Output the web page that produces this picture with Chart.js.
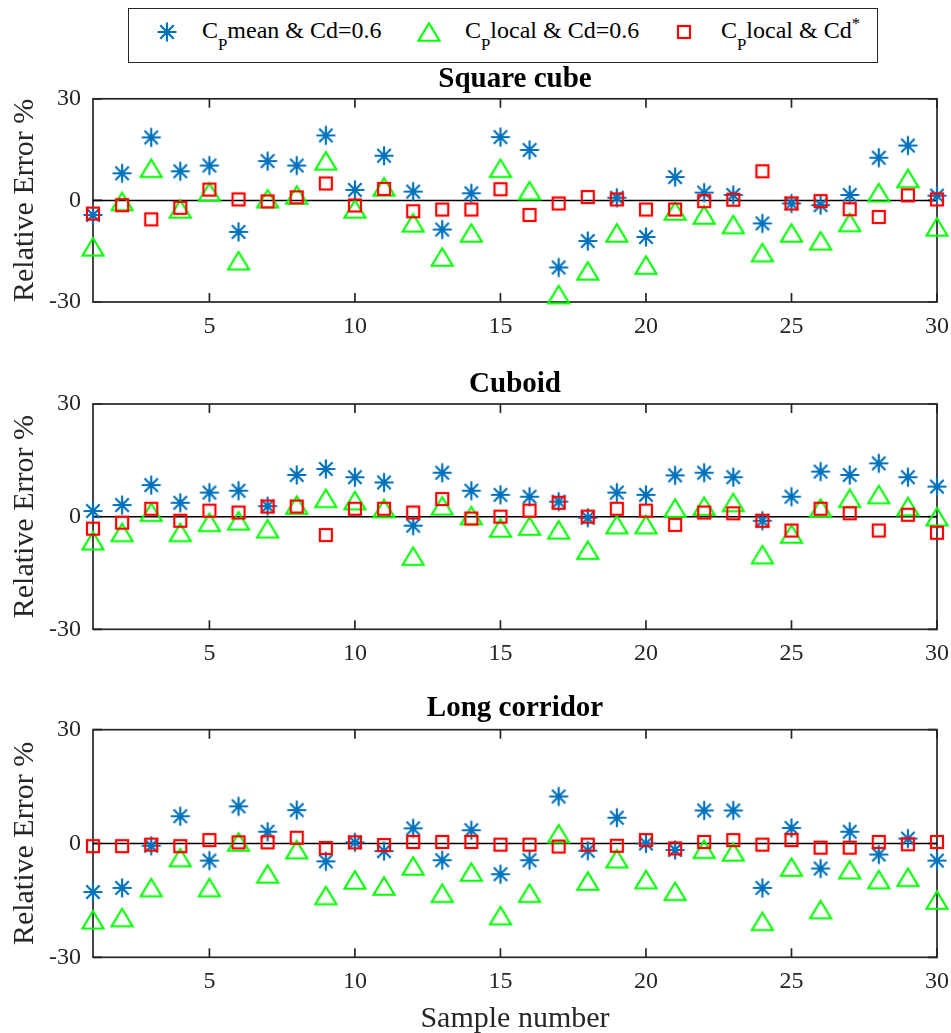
<!DOCTYPE html>
<html>
<head>
<meta charset="utf-8">
<script src="https://cdn.jsdelivr.net/npm/chart.js@4.4.1/dist/chart.umd.min.js"></script>
<style>
  html, body { margin: 0; padding: 0; background: #fff; width: 951px; height: 1033px; overflow: hidden; }
  canvas.panel { position: absolute; left: 0; }
  #legend {
    position: absolute; left: 128px; top: 8px; width: 750px; height: 55px;
    border: 1px solid #262626; box-sizing: border-box; background: #fff;
    font-family: 'Liberation Serif', 'Times New Roman', serif; font-size: 24px; color: #000;
  }
  #legend .txt { position: absolute; white-space: nowrap; line-height: 24px; }
  #legend sub { font-size: 70%; vertical-align: -12px; line-height: 0; }
  #legend sup { font-size: 70%; vertical-align: 9px; line-height: 0; }
  #legend canvas { position: absolute; }
</style>
</head>
<body>
<div id="legend"></div>
<canvas class="panel" id="cubeChart" width="951" height="300" style="top:50px"></canvas>
<canvas class="panel" id="cuboidChart" width="951" height="322" style="top:355px"></canvas>
<canvas class="panel" id="corridorChart" width="951" height="357" style="top:680px"></canvas>
<script>
// ---- data ----
const sampleNumbers = [1, 2, 3, 4, 5, 6, 7, 8, 9, 10, 11, 12, 13, 14, 15,
                       16, 17, 18, 19, 20, 21, 22, 23, 24, 25, 26, 27, 28, 29, 30];
const xTickValues = [5, 10, 15, 20, 25, 30];
const yTickValues = [-30, 0, 30];
const yRange = [-30, 30];
const zeroLevel = 0;

const seriesNames = ['C<sub>P</sub>mean &amp; Cd=0.6', 'C<sub>P</sub>local &amp; Cd=0.6', 'C<sub>P</sub>local &amp; Cd<sup>*</sup>'];
const panelTitles = ['Square cube', 'Cuboid', 'Long corridor'];

// Square cube
const cubeMean    = [-4.3, 8.0, 18.6, 8.6, 10.3, -9.3, 11.6, 10.3, 19.2, 3.1, 13.2, 2.6, -8.6, 2.1, 18.7,
                     14.9, -19.8, -12.0, 0.8, -10.8, 6.9, 2.3, 1.6, -6.8, -0.9, -1.4, 1.6, 12.6, 16.2, 1.4];
const cubeLocal   = [-13.7, -0.3, 9.5, -2.5, 2.5, -17.8, 0.5, 1.6, 11.7, -2.5, 4.0, -6.6, -16.7, -9.6, 9.5,
                     2.9, -27.8, -20.8, -9.6, -19.1, -3.1, -4.3, -7.1, -15.4, -9.6, -11.9, -6.5, 2.3, 6.5, -7.8];
const cubeLocalCd = [-3.9, -1.4, -5.6, -2.2, 3.2, 0.3, -0.3, 0.9, 5.0, -1.5, 3.4, -3.2, -2.7, -2.7, 3.3,
                     -4.3, -0.9, 1.0, 0.3, -2.7, -2.7, -0.2, 0.2, 8.6, -0.9, -0.2, -2.6, -4.9, 1.5, 0.3];

// Cuboid
const cuboidMean    = [1.5, 3.1, 8.4, 3.7, 6.4, 6.9, 2.8, 11.1, 12.7, 10.5, 9.1, -2.4, 11.7, 6.9, 5.8,
                       5.3, 4.0, -0.3, 6.4, 5.8, 11.0, 11.7, 10.5, -1.1, 5.3, 12.0, 11.1, 14.2, 10.5, 8.0];
const cuboidLocal   = [-6.4, -4.2, 1.2, -4.2, -1.5, -1.1, -3.2, 3.1, 4.9, 4.3, 2.2, -10.5, 2.9, 0.3, -3.0,
                       -2.5, -3.5, -8.9, -2.1, -2.1, 2.3, 2.8, 3.8, -10.1, -4.6, 2.3, 4.9, 5.9, 2.7, 0.0];
const cuboidLocalCd = [-3.2, -1.6, 2.1, -1.1, 1.6, 1.1, 2.7, 2.7, -4.9, 2.1, 2.1, 1.1, 4.7, -0.5, 0.0,
                       1.6, 3.7, 0.0, 2.1, 1.6, -2.2, 1.1, 0.9, -1.1, -3.7, 2.1, 0.9, -3.7, 0.5, -4.3];

// Long corridor
const corridorMean    = [-12.8, -11.7, -0.6, 7.2, -4.5, 9.8, 3.1, 8.8, -4.7, 0.3, -2.0, 4.0, -4.4, 3.5, -8.1,
                         -4.4, 12.4, -1.9, 6.8, 0.0, -1.7, 8.7, 8.7, -11.7, 4.1, -6.6, 3.1, -2.9, 1.3, -4.5];
const corridorLocal   = [-20.1, -19.5, -11.6, -3.7, -11.6, 0.4, -8.0, -1.6, -13.7, -9.6, -11.2, -5.9, -13.1, -7.5, -19.0,
                         -13.1, 2.6, -9.9, -4.0, -9.5, -12.6, -1.5, -2.2, -20.5, -6.2, -17.4, -6.9, -9.5, -8.9, -14.9];
const corridorLocalCd = [-0.7, -0.7, -0.3, -0.7, 0.9, 0.3, 0.3, 1.5, -1.2, 0.3, -0.4, 0.4, 0.4, 0.4, -0.3,
                         -0.3, -0.8, -0.3, -0.6, 0.9, -1.3, 0.4, 0.9, -0.3, 0.9, -1.1, -1.1, 0.4, -0.2, 0.4];

// ---- styling ----
const FONT = "'Liberation Serif', 'Times New Roman', serif";
const BLUE = '#0072BD', GREEN = '#00FF00', RED = '#FF0000', AXIS = '#262626';

// marker glyphs drawn once onto small canvases, centred on the data point
function asteriskMarker() {
  const c = document.createElement('canvas'); c.width = 24; c.height = 24;
  const g = c.getContext('2d'), m = 12, r = 9.5, d = r * Math.SQRT1_2;
  g.strokeStyle = BLUE; g.lineWidth = 2.2;
  g.beginPath();
  g.moveTo(m - r, m); g.lineTo(m + r, m);
  g.moveTo(m, m - r); g.lineTo(m, m + r);
  g.moveTo(m - d, m - d); g.lineTo(m + d, m + d);
  g.moveTo(m - d, m + d); g.lineTo(m + d, m - d);
  g.stroke();
  return c;
}
function triangleMarker() {
  const c = document.createElement('canvas'); c.width = 28; c.height = 26;
  const g = c.getContext('2d'), cx = 14, cy = 13, hw = 10.5, hh = 8.8;
  g.strokeStyle = GREEN; g.lineWidth = 2.1; g.lineJoin = 'miter';
  g.beginPath();
  g.moveTo(cx, cy - hh); g.lineTo(cx + hw, cy + hh); g.lineTo(cx - hw, cy + hh); g.closePath();
  g.stroke();
  return c;
}
function squareMarker() {
  const c = document.createElement('canvas'); c.width = 18; c.height = 18;
  const g = c.getContext('2d');
  g.strokeStyle = RED; g.lineWidth = 2.2;
  g.strokeRect(3, 3, 12, 12);
  return c;
}
const markerMakers = [asteriskMarker, triangleMarker, squareMarker];

// ---- legend ----
(function buildLegend() {
  const box = document.getElementById('legend');
  const markerX = [167, 429, 684];
  const textX = [202, 465, 721];
  const markerY = 32;
  markerMakers.forEach((make, i) => {
    const cv = make();
    cv.style.left = (markerX[i] - 129 - cv.width / 2) + 'px';
    cv.style.top = (markerY - 9 - cv.height / 2) + 'px';
    box.appendChild(cv);
    const t = document.createElement('span');
    t.className = 'txt';
    t.innerHTML = seriesNames[i];
    t.style.left = (textX[i] - 129) + 'px';
    t.style.top = '9px';
    box.appendChild(t);
  });
})();

// ---- axes frame with inward tick marks ----
const frameAndTicks = {
  id: 'frameAndTicks',
  beforeDatasetsDraw(chart) {
    const { ctx, chartArea: a, scales: { x, y } } = chart;
    const tl = 9;
    ctx.save();
    ctx.strokeStyle = AXIS;
    ctx.lineWidth = 1.7;
    ctx.strokeRect(a.left, a.top, a.right - a.left, a.bottom - a.top);
    ctx.beginPath();
    xTickValues.forEach(v => {
      const px = x.getPixelForValue(v);
      ctx.moveTo(px, a.bottom); ctx.lineTo(px, a.bottom - tl);
      ctx.moveTo(px, a.top); ctx.lineTo(px, a.top + tl);
    });
    yTickValues.forEach(v => {
      const py = y.getPixelForValue(v);
      ctx.moveTo(a.left, py); ctx.lineTo(a.left + tl, py);
      ctx.moveTo(a.right, py); ctx.lineTo(a.right - tl, py);
    });
    ctx.stroke();
    ctx.restore();
  }
};

function points(values) {
  return sampleNumbers.map((s, i) => ({ x: s, y: values[i] }));
}

function buildPanel(canvasId, title, meanVals, localVals, localCdVals, geom) {
  const markers = markerMakers.map(m => m());
  const scatterBase = { showLine: false, clip: false, pointRadius: 10, pointHoverRadius: 10 };
  return new Chart(document.getElementById(canvasId), {
    type: 'scatter',
    data: {
      datasets: [
        Object.assign({ label: 'mean', data: points(meanVals), pointStyle: markers[0], order: 3 }, scatterBase),
        Object.assign({ label: 'local', data: points(localVals), pointStyle: markers[1], order: 2 }, scatterBase),
        Object.assign({ label: 'localCd', data: points(localCdVals), pointStyle: markers[2], order: 1 }, scatterBase),
        {
          type: 'line', label: 'zero',
          data: [{ x: sampleNumbers[0], y: zeroLevel }, { x: sampleNumbers[sampleNumbers.length - 1], y: zeroLevel }],
          borderColor: '#000', borderWidth: 1.5, pointRadius: 0, order: 4, clip: false
        }
      ]
    },
    options: {
      responsive: false,
      animation: false,
      devicePixelRatio: 1,
      layout: { padding: { left: 0, right: 14, top: 0, bottom: 0 } },
      plugins: {
        legend: { display: false },
        tooltip: { enabled: false },
        title: {
          display: true, text: title, color: '#000', fullSize: false,
          font: { family: FONT, size: 29, weight: 'bold', lineHeight: 1.2 },
          padding: { top: geom.titleTop, bottom: geom.titleBottom }
        }
      },
      scales: {
        x: {
          type: 'linear',
          min: sampleNumbers[0], max: sampleNumbers[sampleNumbers.length - 1],
          afterBuildTicks: s => { s.ticks = xTickValues.map(v => ({ value: v })); },
          afterFit: s => { s.height = geom.axisHeight; s.paddingLeft = 0; s.paddingRight = 0; },
          grid: { display: false, drawTicks: false },
          border: { display: false },
          ticks: { color: AXIS, padding: 10, maxRotation: 0, autoSkip: false,
                   font: { family: FONT, size: 24 } },
          title: {
            display: geom.showXTitle, text: 'Sample number', color: AXIS,
            font: { family: FONT, size: 30, lineHeight: 1.2 }, padding: { top: 0, bottom: 0 }
          }
        },
        y: {
          min: yRange[0], max: yRange[1],
          afterBuildTicks: s => { s.ticks = yTickValues.map(v => ({ value: v })); },
          afterFit: s => { s.width = 93; },
          grid: { display: false, drawTicks: false },
          border: { display: false },
          ticks: { color: AXIS, padding: 12, font: { family: FONT, size: 24 } },
          title: {
            display: true, text: 'Relative Error %', color: AXIS,
            font: { family: FONT, size: 30, lineHeight: 1.2 }, padding: { top: 7, bottom: 0 }
          }
        }
      }
    },
    plugins: [frameAndTicks]
  });
}

buildPanel('cubeChart', panelTitles[0], cubeMean, cubeLocal, cubeLocalCd,
           { titleTop: 12, titleBottom: 2, axisHeight: 48, showXTitle: false });
buildPanel('cuboidChart', panelTitles[1], cuboidMean, cuboidLocal, cuboidLocalCd,
           { titleTop: 12.6, titleBottom: 1.6, axisHeight: 47.7, showXTitle: false });
buildPanel('corridorChart', panelTitles[2], corridorMean, corridorLocal, corridorLocalCd,
           { titleTop: 11.6, titleBottom: 3.3, axisHeight: 79.7, showXTitle: true });
</script>
</body>
</html>
